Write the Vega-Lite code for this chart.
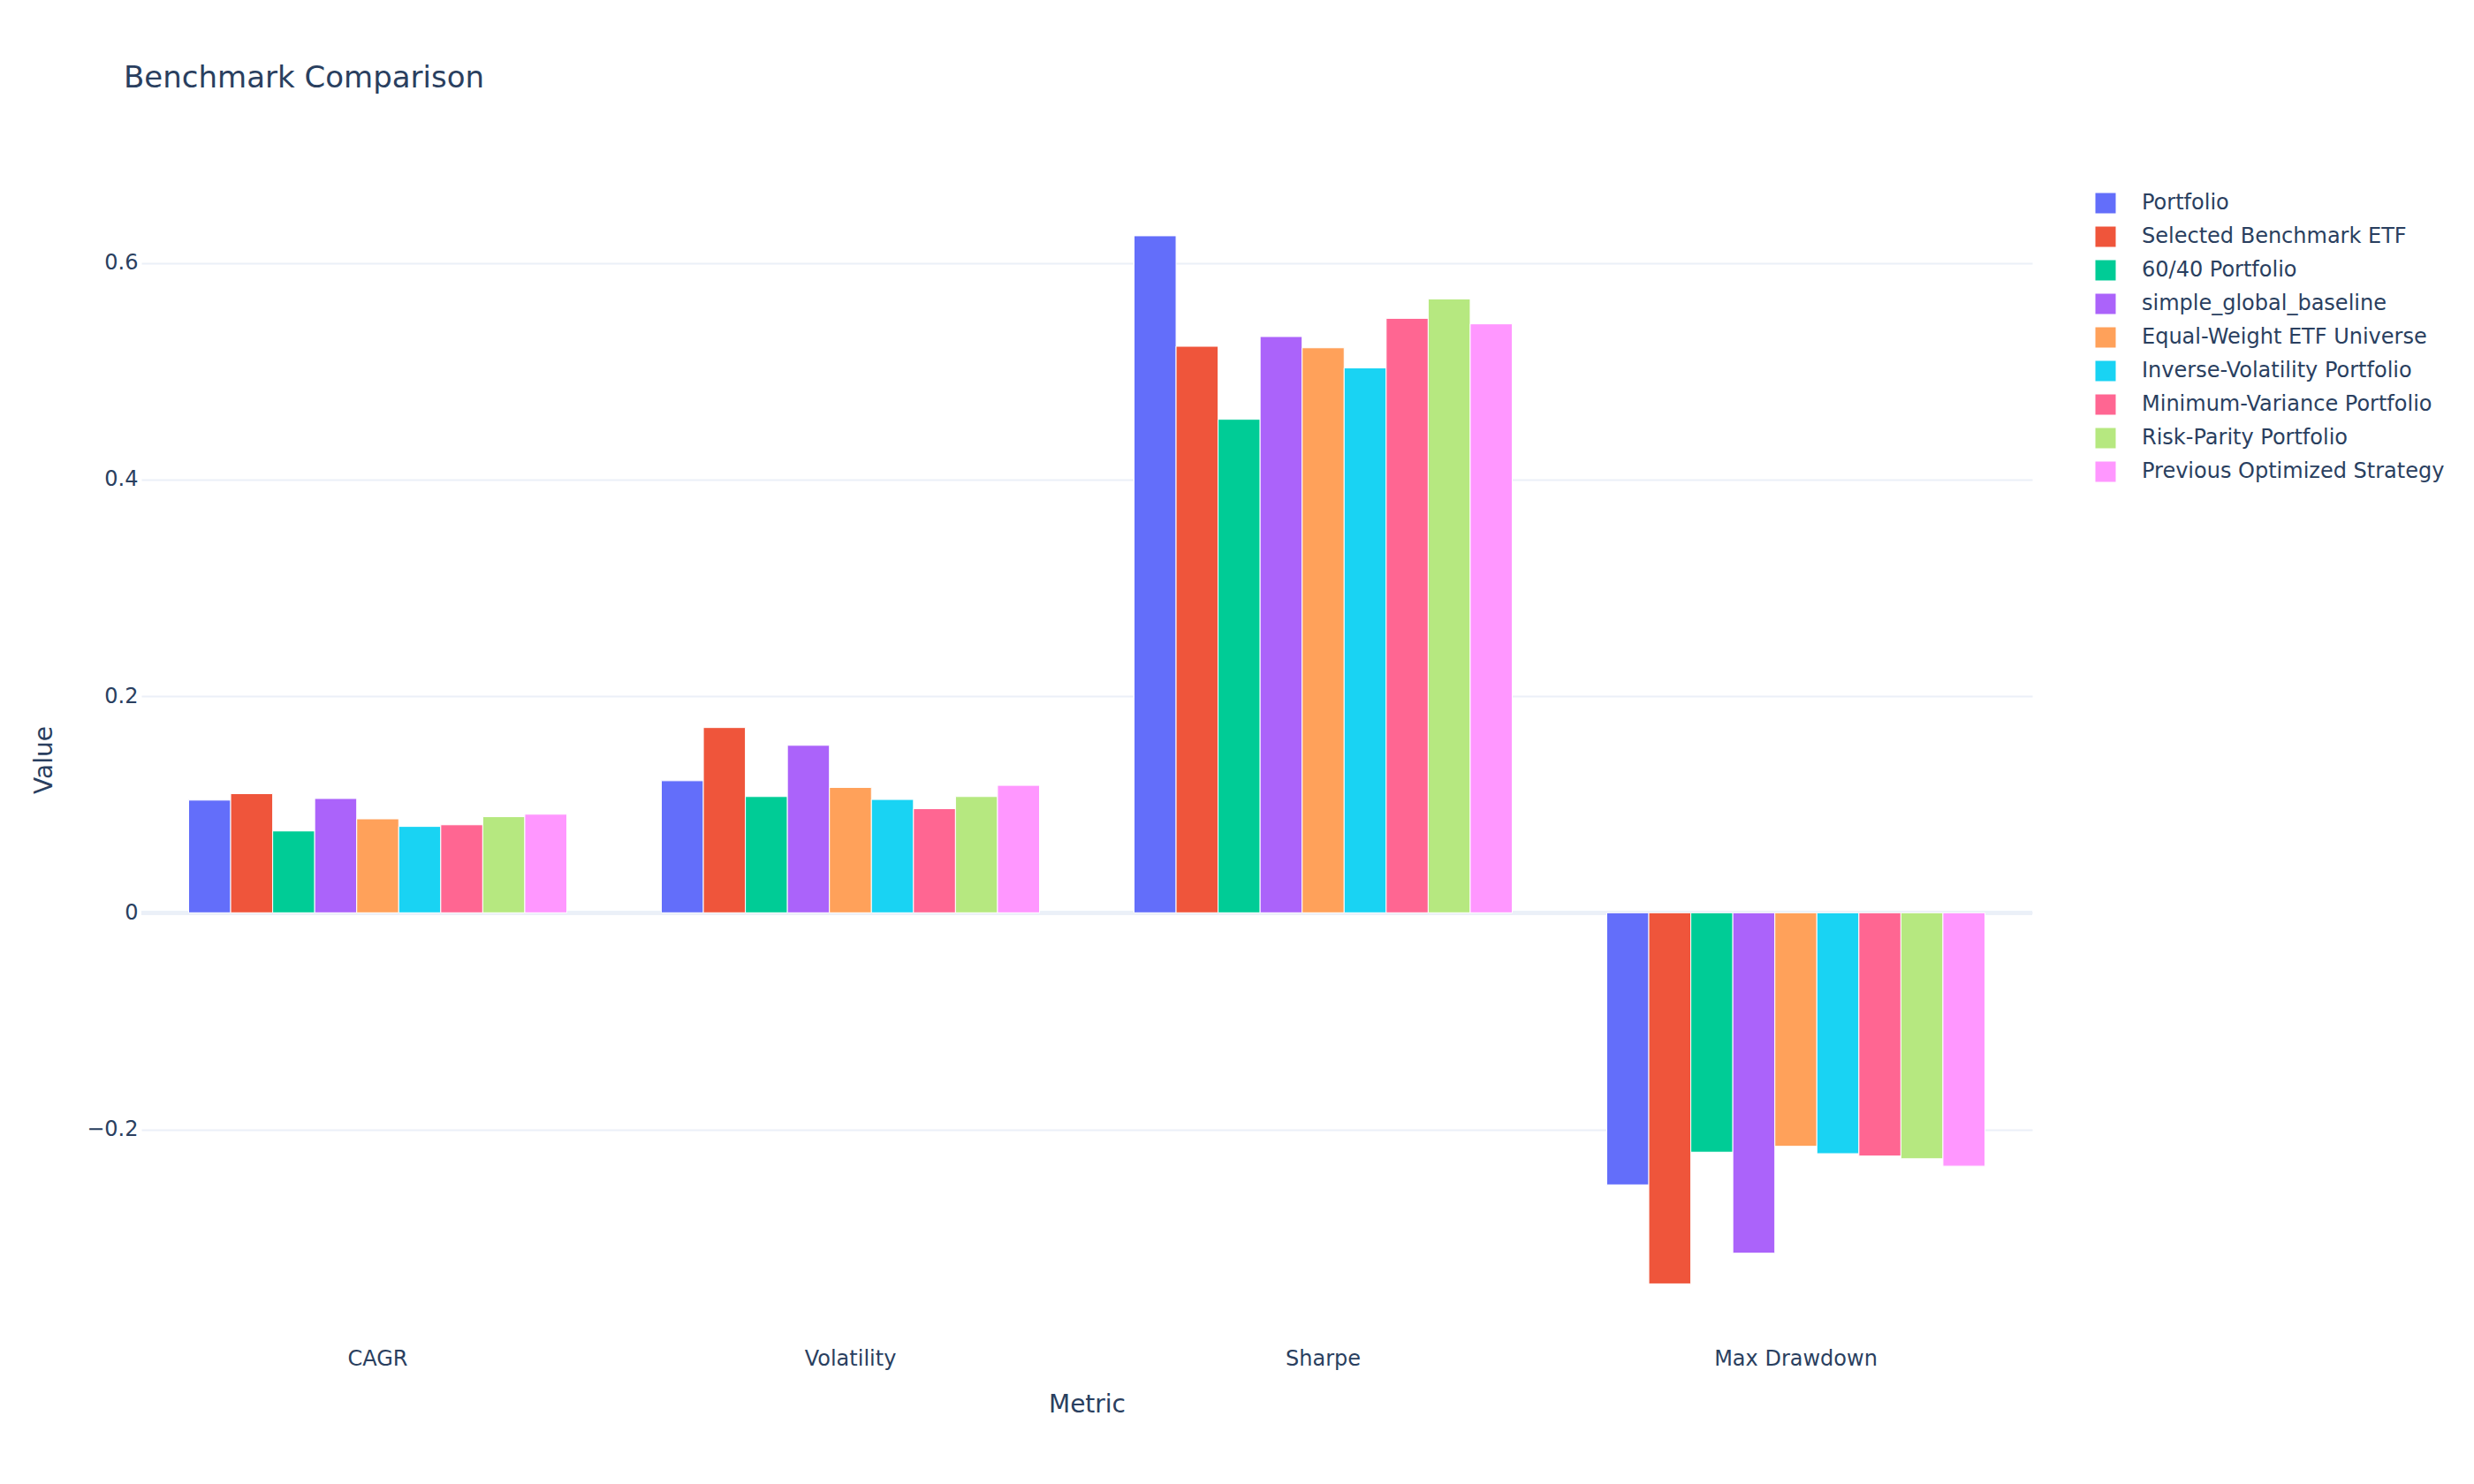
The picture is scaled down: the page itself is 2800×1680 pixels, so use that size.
{
  "$schema": "https://vega.github.io/schema/vega-lite/v6.json",
  "autosize": "none",
  "width": 2140,
  "height": 1320,
  "padding": {"left": 160, "top": 200, "right": 500, "bottom": 160},
  "background": "white",
  "config": {
    "font": "DejaVu Sans",
    "view": {"stroke": null},
    "axis": {"labelColor": "#2a3f5f", "titleColor": "#2a3f5f", "titleFontWeight": "normal", "labelFont": "DejaVu Sans", "titleFont": "DejaVu Sans"}
  },
  "title": {
    "text": "Benchmark Comparison",
    "anchor": "start",
    "frame": "group",
    "dx": -20,
    "offset": 94,
    "fontSize": 34,
    "fontWeight": "normal",
    "color": "#2a3f5f",
    "font": "DejaVu Sans"
  },
  "data": {
    "values": [
      {"metric": "CAGR", "series": "Portfolio", "value": 0.104},
      {"metric": "CAGR", "series": "Selected Benchmark ETF", "value": 0.110},
      {"metric": "CAGR", "series": "60/40 Portfolio", "value": 0.0755},
      {"metric": "CAGR", "series": "simple_global_baseline", "value": 0.1055},
      {"metric": "CAGR", "series": "Equal-Weight ETF Universe", "value": 0.0867},
      {"metric": "CAGR", "series": "Inverse-Volatility Portfolio", "value": 0.0797},
      {"metric": "CAGR", "series": "Minimum-Variance Portfolio", "value": 0.0812},
      {"metric": "CAGR", "series": "Risk-Parity Portfolio", "value": 0.0887},
      {"metric": "CAGR", "series": "Previous Optimized Strategy", "value": 0.091},
      {"metric": "Volatility", "series": "Portfolio", "value": 0.1219},
      {"metric": "Volatility", "series": "Selected Benchmark ETF", "value": 0.171},
      {"metric": "Volatility", "series": "60/40 Portfolio", "value": 0.1073},
      {"metric": "Volatility", "series": "simple_global_baseline", "value": 0.1546},
      {"metric": "Volatility", "series": "Equal-Weight ETF Universe", "value": 0.1157},
      {"metric": "Volatility", "series": "Inverse-Volatility Portfolio", "value": 0.1046},
      {"metric": "Volatility", "series": "Minimum-Variance Portfolio", "value": 0.0961},
      {"metric": "Volatility", "series": "Risk-Parity Portfolio", "value": 0.1073},
      {"metric": "Volatility", "series": "Previous Optimized Strategy", "value": 0.1176},
      {"metric": "Sharpe", "series": "Portfolio", "value": 0.625},
      {"metric": "Sharpe", "series": "Selected Benchmark ETF", "value": 0.523},
      {"metric": "Sharpe", "series": "60/40 Portfolio", "value": 0.4556},
      {"metric": "Sharpe", "series": "simple_global_baseline", "value": 0.532},
      {"metric": "Sharpe", "series": "Equal-Weight ETF Universe", "value": 0.5216},
      {"metric": "Sharpe", "series": "Inverse-Volatility Portfolio", "value": 0.503},
      {"metric": "Sharpe", "series": "Minimum-Variance Portfolio", "value": 0.5488},
      {"metric": "Sharpe", "series": "Risk-Parity Portfolio", "value": 0.5667},
      {"metric": "Sharpe", "series": "Previous Optimized Strategy", "value": 0.5437},
      {"metric": "Max Drawdown", "series": "Portfolio", "value": -0.2512},
      {"metric": "Max Drawdown", "series": "Selected Benchmark ETF", "value": -0.3426},
      {"metric": "Max Drawdown", "series": "60/40 Portfolio", "value": -0.221},
      {"metric": "Max Drawdown", "series": "simple_global_baseline", "value": -0.3143},
      {"metric": "Max Drawdown", "series": "Equal-Weight ETF Universe", "value": -0.2156},
      {"metric": "Max Drawdown", "series": "Inverse-Volatility Portfolio", "value": -0.2224},
      {"metric": "Max Drawdown", "series": "Minimum-Variance Portfolio", "value": -0.2246},
      {"metric": "Max Drawdown", "series": "Risk-Parity Portfolio", "value": -0.2271},
      {"metric": "Max Drawdown", "series": "Previous Optimized Strategy", "value": -0.2339}
    ]
  },
  "layer": [
    {
      "mark": {"type": "rule", "color": "#EBF0F8", "strokeWidth": 4},
      "encoding": {
        "y": {"datum": 0, "type": "quantitative", "scale": {"domain": [-0.3969, 0.6796], "nice": false, "zero": false}}
      }
    },
    {
      "mark": {"type": "bar", "stroke": "white", "strokeWidth": 1},
      "encoding": {
        "x": {
          "field": "metric",
          "type": "nominal",
          "sort": ["CAGR", "Volatility", "Sharpe", "Max Drawdown"],
          "scale": {"paddingInner": 0.2, "paddingOuter": 0.1},
          "axis": {
            "title": "Metric",
            "labelAngle": 0,
            "labelFontSize": 24,
            "labelPadding": 6,
            "labelLimit": 500,
            "ticks": false,
            "domain": false,
            "titleFontSize": 28,
            "titleY": 70,
            "titleBaseline": "middle"
          }
        },
        "xOffset": {
          "field": "series",
          "type": "nominal",
          "sort": ["Portfolio", "Selected Benchmark ETF", "60/40 Portfolio", "simple_global_baseline", "Equal-Weight ETF Universe", "Inverse-Volatility Portfolio", "Minimum-Variance Portfolio", "Risk-Parity Portfolio", "Previous Optimized Strategy"],
          "scale": {"paddingInner": 0, "paddingOuter": 0}
        },
        "y": {
          "field": "value",
          "type": "quantitative",
          "scale": {"domain": [-0.3969, 0.6796], "nice": false, "zero": false},
          "axis": {
            "title": "Value",
            "values": [-0.2, 0, 0.2, 0.4, 0.6],
            "format": ".1~f",
            "labelFontSize": 24,
            "labelPadding": 4,
            "ticks": false,
            "domain": false,
            "grid": true,
            "gridColor": "#EBF0F8",
            "gridWidth": 2,
            "titleFontSize": 28,
            "titleX": -110,
            "titleY": 660,
            "titleAlign": "center",
            "titleBaseline": "middle"
          }
        },
        "color": {
          "field": "series",
          "type": "nominal",
          "scale": {
            "domain": ["Portfolio", "Selected Benchmark ETF", "60/40 Portfolio", "simple_global_baseline", "Equal-Weight ETF Universe", "Inverse-Volatility Portfolio", "Minimum-Variance Portfolio", "Risk-Parity Portfolio", "Previous Optimized Strategy"],
            "range": ["#636EFA", "#EF553B", "#00CC96", "#AB63FA", "#FFA15A", "#19D3F3", "#FF6692", "#B6E880", "#FF97FF"]
          },
          "legend": {
            "title": null,
            "orient": "none",
            "legendX": 2211,
            "legendY": 18,
            "padding": 0,
            "symbolType": "square",
            "symbolSize": 529,
            "symbolStrokeWidth": 0,
            "symbolOpacity": 1,
            "labelFontSize": 24,
            "labelColor": "#2a3f5f",
            "labelFont": "DejaVu Sans",
            "labelOffset": 29,
            "labelLimit": 600,
            "rowPadding": 14
          }
        }
      }
    }
  ]
}
